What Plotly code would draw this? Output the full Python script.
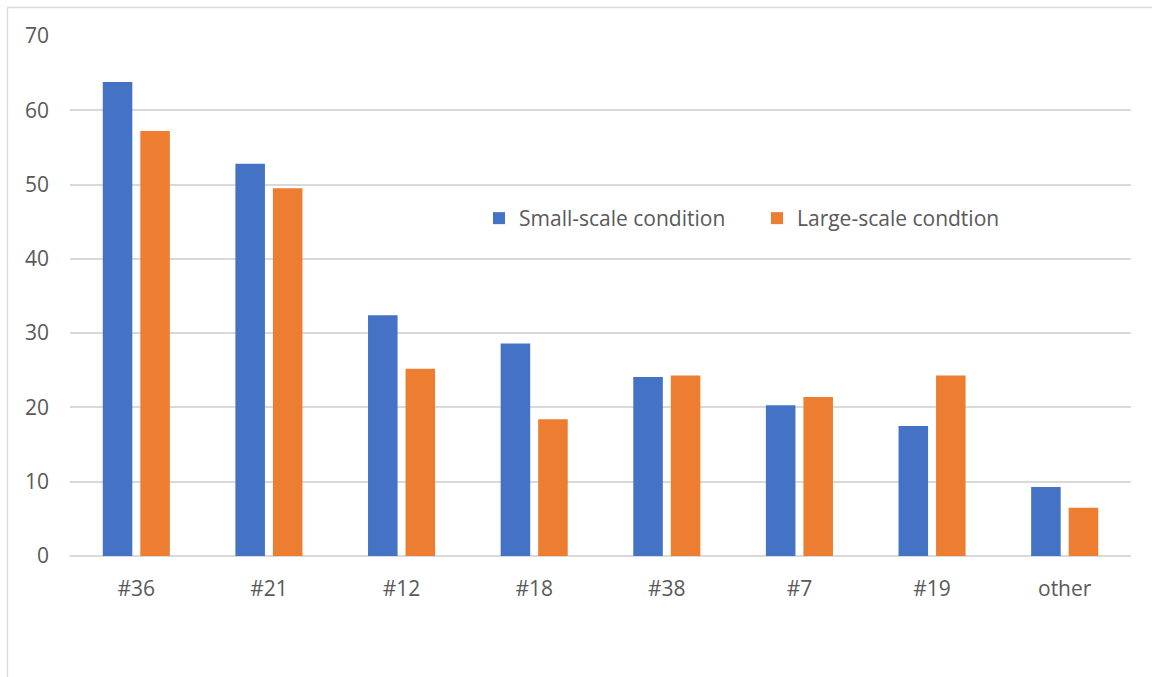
import plotly.graph_objects as go

categories = ["#36", "#21", "#12", "#18", "#38", "#7", "#19", "other"]
small_scale = [63.8, 52.8, 32.4, 28.6, 24.1, 20.3, 17.5, 9.3]
large_scale = [57.2, 49.5, 25.2, 18.4, 24.3, 21.4, 24.3, 6.5]
y_ticks = [0, 10, 20, 30, 40, 50, 60, 70]

BLUE = "#4472C4"
ORANGE = "#ED7D31"
TEXT = "#595959"
GRID = "#D9D9D9"
FONT = "Open Sans, Noto Sans, sans-serif"
FS = 21

fig = go.Figure()
fig.add_trace(go.Bar(x=categories, y=small_scale, name="Small-scale condition",
                     marker=dict(color=BLUE, line=dict(width=0))))
fig.add_trace(go.Bar(x=categories, y=large_scale, name="Large-scale condtion",
                     marker=dict(color=ORANGE, line=dict(width=0))))

W, H = 1152, 677
L, R, T, B = 70, 21, 36, 121
pw, ph = W - L - R, H - T - B

def px_x(p):
    return (p - L) / pw

def px_y(p):
    return (H - B - p) / ph

fig.update_layout(
    width=W, height=H,
    margin=dict(l=L, r=R, t=T, b=B),
    paper_bgcolor="white", plot_bgcolor="white",
    font=dict(family=FONT, size=FS, color=TEXT),
    barmode="group", bargap=0.434, bargroupgap=0.213,
    showlegend=True,
    legend=dict(orientation="h", x=px_x(479), y=px_y(198), xanchor="left", yanchor="top",
                bgcolor="rgba(0,0,0,0)", font=dict(family=FONT, size=FS, color=TEXT),
                itemwidth=30, entrywidth=233, entrywidthmode="pixels"),
    xaxis=dict(showgrid=False, showline=False, zeroline=False, ticks="",
               ticklabelstandoff=18, tickfont=dict(family=FONT, size=FS, color=TEXT)),
    yaxis=dict(range=[0, 70], tickvals=y_ticks, showgrid=True, gridcolor=GRID, gridwidth=1.5,
               zeroline=True, zerolinecolor=GRID, zerolinewidth=1.5, showline=False,
               ticks="", ticklabelstandoff=20, tickfont=dict(family=FONT, size=FS, color=TEXT)),
    shapes=[dict(type="rect", xref="paper", yref="paper",
                 x0=px_x(7.5), x1=px_x(1200), y0=px_y(720), y1=px_y(7.5),
                 line=dict(color=GRID, width=1.3), fillcolor="rgba(0,0,0,0)", layer="below")],
)

fig.write_html("out.html", config={"displayModeBar": False},
               post_script="document.body.style.margin='0';document.body.style.overflow='hidden';")
